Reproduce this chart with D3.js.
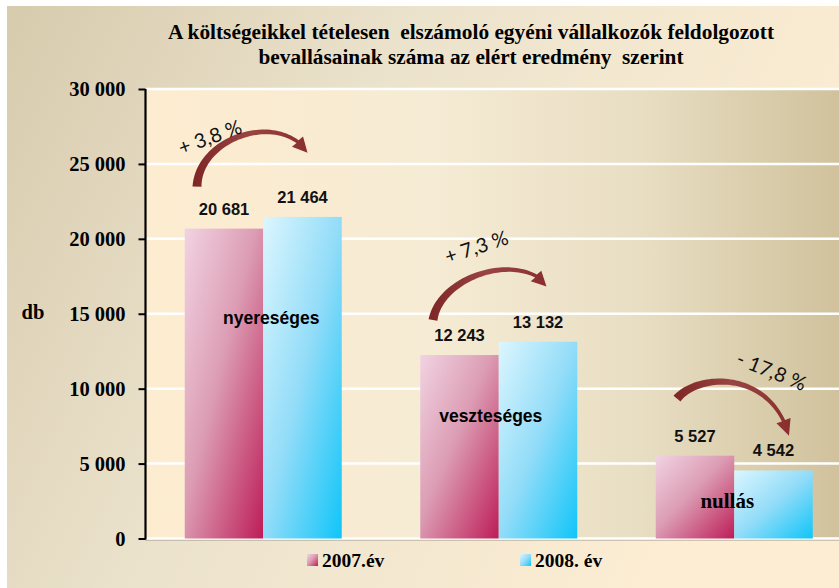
<!DOCTYPE html>
<html><head><meta charset="utf-8">
<script src="https://cdn.jsdelivr.net/npm/d3@7"></script>
<style>html,body{margin:0;padding:0;background:#fff;} svg{display:block;}</style>
</head><body>
<script>
// ---- data ----
const categories = ["nyereséges", "veszteséges", "nullás"];
const series = ["2007.év", "2008. év"];
const values2007 = [20681, 12243, 5527];
const values2008 = [21464, 13132, 4542];
const valueLabels2007 = ["20 681", "12 243", "5 527"];
const valueLabels2008 = ["21 464", "13 132", "4 542"];
const yTicks = [0, 5000, 10000, 15000, 20000, 25000, 30000];
const yTickLabels = ["0", "5 000", "10 000", "15 000", "20 000", "25 000", "30 000"];
const changeLabels = ["+ 3,8 %", "+ 7,3 %", "- 17,8 %"];
const titleLines = ["A költségeikkel tételesen  elszámoló egyéni vállalkozók feldolgozott",
                    "bevallásainak száma az elért eredmény  szerint"];
const yAxisTitle = "db";

// ---- layout ----
const W = 839, H = 588;
const plot = {left: 145.5, right: 852, top: 89, bottom: 538.5};
const svg = d3.select("body").append("svg").attr("width", W).attr("height", H)
  .style("font-family", "'Liberation Serif', serif");
const defs = svg.append("defs");

function lin(id, x1, y1, x2, y2, stops) {
  const g = defs.append("linearGradient").attr("id", id)
    .attr("x1", x1).attr("y1", y1).attr("x2", x2).attr("y2", y2);
  stops.forEach(s => g.append("stop").attr("offset", s[0]).attr("stop-color", s[1]));
}
lin("bg", 0, 0, 1, 0.35, [[0, "#d7cbad"], [0.45, "#ece3cd"], [1, "#fcedd3"]]);
lin("pa", 0, 0, 1, 0, [[0, "#fdecd0"], [0.4, "#f6ebd4"], [0.7, "#e8dec3"], [1, "#cfc09a"]]);
lin("g07", 0, 0, 1, 1, [[0, "#f1d3e2"], [0.45, "#dc9db4"], [1, "#bd1d57"]]);
lin("g08", 0, 0, 1, 1, [[0, "#dcf6fe"], [0.5, "#92dcf8"], [1, "#0fc5f9"]]);
lin("arr", 0, 0, 1, 0, [[0, "#7e2626"], [0.5, "#9a4444"], [1, "#8a2e2e"]]);

// background panel
svg.append("rect").attr("x", 7).attr("y", 6).attr("width", W - 7).attr("height", H - 6).attr("fill", "url(#bg)");

// plot area
svg.append("rect").attr("x", plot.left).attr("y", plot.top)
  .attr("width", plot.right - plot.left).attr("height", plot.bottom - plot.top + 1.5)
  .attr("fill", "url(#pa)").attr("stroke", "#a09a8c").attr("stroke-width", 1);

// scales
const y = d3.scaleLinear().domain([0, 30000]).range([plot.bottom, plot.top]);
const x = d3.scaleBand().domain(categories).range([plot.left, plot.right]).padding(0);
const bw = x.bandwidth();
const x1 = d3.scaleBand().domain(series).range([bw / 6, bw * 5 / 6]).padding(0);

// gridlines
svg.append("g").selectAll("line").data(yTicks).join("line")
  .attr("x1", plot.left).attr("x2", plot.right)
  .attr("y1", d => y(d)).attr("y2", d => y(d))
  .attr("stroke", "#ffffff").attr("stroke-width", 2.5);

// bars
const rows = categories.map((c, i) => ({cat: c, i, vals: [
  {s: series[0], v: values2007[i], lab: valueLabels2007[i], fill: "url(#g07)"},
  {s: series[1], v: values2008[i], lab: valueLabels2008[i], fill: "url(#g08)"}]}));
const grp = svg.append("g").selectAll("g").data(rows).join("g")
  .attr("transform", d => `translate(${x(d.cat)},0)`);
grp.selectAll("rect").data(d => d.vals).join("rect")
  .attr("x", d => x1(d.s)).attr("width", x1.bandwidth())
  .attr("y", d => y(d.v)).attr("height", d => y(0) - y(d.v))
  .attr("fill", d => d.fill);
grp.selectAll("text.val").data(d => d.vals).join("text").attr("class", "val")
  .attr("x", d => x1(d.s) + x1.bandwidth() / 2).attr("y", d => y(d.v) - 14)
  .attr("text-anchor", "middle")
  .style("font-family", "'Liberation Sans', Arial, sans-serif")
  .style("font-weight", "bold").style("font-size", "16.5px").attr("fill", "#111")
  .text(d => d.lab);

// category labels (inside the bars)
const catLabelPos = [[8, 14300, "sans"], [-8, 7750, "sans"], [-7, 2040, "serif"]];
svg.append("g").selectAll("text").data(categories).join("text")
  .attr("x", (d, i) => x(d) + bw / 2 + catLabelPos[i][0])
  .attr("y", (d, i) => y(catLabelPos[i][1]))
  .attr("text-anchor", "middle")
  .style("font-family", (d, i) => catLabelPos[i][2] === "sans" ? "'Liberation Sans', Arial, sans-serif" : "'Liberation Serif', serif")
  .style("font-size", (d, i) => catLabelPos[i][2] === "sans" ? "17.5px" : "21px")
  .style("font-weight", "bold").attr("fill", "#000")
  .text(d => d);

// y axis
const axisG = svg.append("g").attr("transform", `translate(${plot.left},0)`)
  .call(d3.axisLeft(y).tickValues(yTicks).tickSize(7).tickPadding(13).tickFormat((d, i) => yTickLabels[i]));
axisG.select(".domain").attr("stroke", "#000").attr("stroke-width", 2.2)
  .attr("d", `M0,${plot.top}V${plot.bottom + 1}`);
axisG.selectAll(".tick line").attr("stroke", "#000").attr("stroke-width", 2);
axisG.selectAll(".tick text")
  .style("font-family", "'Liberation Serif', serif").style("font-size", "20.5px")
  .style("font-weight", "bold").attr("fill", "#000").attr("dy", "0.33em");

svg.append("text").attr("x", 33).attr("y", 319).attr("text-anchor", "middle")
  .style("font-size", "20.5px").style("font-weight", "bold").text(yAxisTitle);

// title
svg.append("g").selectAll("text").data(titleLines).join("text")
  .attr("x", 471).attr("y", (d, i) => 39 + i * 25)
  .attr("text-anchor", "middle")
  .attr("textLength", (d, i) => i === 0 ? 606 : 425).attr("lengthAdjust", "spacingAndGlyphs")
  .style("white-space", "pre")
  .style("font-size", "20px").style("font-weight", "bold").attr("fill", "#000")
  .text(d => d);

// legend
const legX = [307, 520];
const leg = svg.append("g").selectAll("g").data(series).join("g")
  .attr("transform", (d, i) => `translate(${legX[i]},554)`);
leg.append("rect").attr("width", 11).attr("height", 12)
  .attr("fill", (d, i) => i === 0 ? "url(#g07)" : "url(#g08)");
leg.append("text").attr("x", 15).attr("y", 13)
  .style("font-size", "19.5px").style("font-weight", "bold").attr("fill", "#000")
  .style("white-space", "pre").text(d => d);

// change arrows: offsets relative to (band start, top of 2007 bar)
const arrowGeom = [
  {p: [[51.5, -42], [53, -86], [117, -112], [152, -87]], tip: [162, -76], lab: [64.5, -91.5, -20]},
  {p: [[52, -35], [58, -73], [119, -98], [155, -79]], tip: [165.5, -68.5], lab: [95.5, -108, -18]},
  {p: [[60.5, -57], [79, -80], [142, -86], [167, -35]], tip: [172.5, -20], lab: [155, -84.5, 22]}
];
function bez(p, t) {
  const m = 1 - t;
  const pt = [0, 1].map(k => m*m*m*p[0][k] + 3*m*m*t*p[1][k] + 3*m*t*t*p[2][k] + t*t*t*p[3][k]);
  const dv = [0, 1].map(k => 3*m*m*(p[1][k]-p[0][k]) + 6*m*t*(p[2][k]-p[1][k]) + 3*t*t*(p[3][k]-p[2][k]));
  return [pt, dv];
}
const arrowsG = svg.append("g");
categories.forEach((c, i) => {
  const ox = x(c), oy = y(values2007[i]);
  const g = arrowGeom[i];
  const P = g.p.map(q => [ox + q[0], oy + q[1]]);
  const tip = [ox + g.tip[0], oy + g.tip[1]];
  const N = 48, L = [], R = [];
  for (let k = 0; k <= N; k++) {
    const t = k / N;
    const [pt, dv] = bez(P, t);
    const len = Math.hypot(dv[0], dv[1]);
    const nx = -dv[1] / len, ny = dv[0] / len;
    const w = (9 - 5.5 * Math.pow(t, 0.8)) / 2;
    L.push([pt[0] + nx * w, pt[1] + ny * w]);
    R.push([pt[0] - nx * w, pt[1] - ny * w]);
  }
  const end = P[3];
  const hx = tip[0] - end[0], hy = tip[1] - end[1];
  const hl = Math.hypot(hx, hy);
  const nx = -hy / hl, ny = hx / hl, hw = 7.5;
  const pts = [...L, [end[0] + nx * hw, end[1] + ny * hw], tip, [end[0] - nx * hw, end[1] - ny * hw], ...R.reverse()];
  arrowsG.append("path").attr("d", d3.line()(pts) + "Z").attr("fill", "url(#arr)");
  arrowsG.append("text")
    .attr("transform", `translate(${ox + g.lab[0]},${oy + g.lab[1]}) rotate(${g.lab[2]})`)
    .attr("text-anchor", "middle").attr("dy", "0.35em")
    .style("font-family", "Lato, 'Open Sans', sans-serif").style("font-size", "20px")
    .attr("fill", "#111").style("white-space", "pre")
    .text(changeLabels[i]);
});
</script>
</body></html>
